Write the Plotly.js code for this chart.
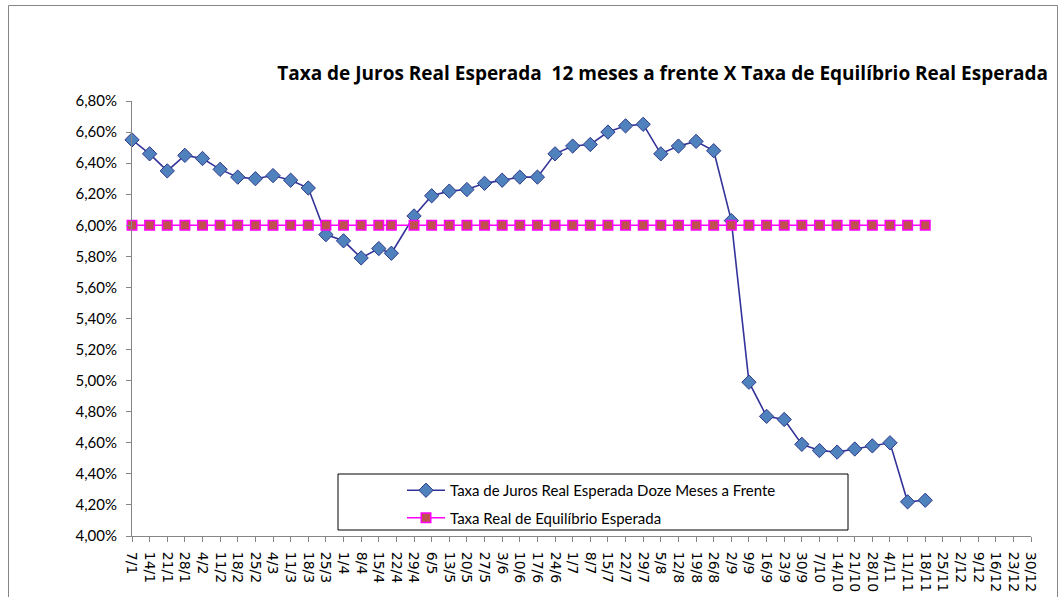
<!DOCTYPE html>
<html>
<head>
<meta charset="utf-8">
<script src="https://cdn.plot.ly/plotly-3.0.1.min.js"></script>
<style>
html,body{margin:0;padding:0;background:#fff;}
#chart{width:1062px;height:597px;}
</style>
</head>
<body>
<div id="chart"></div>
<script>
const year = 2009;

const obsDates = ['7/1','14/1','21/1','28/1','4/2','11/2','18/2','25/2','4/3','11/3','18/3','25/3','1/4','8/4','15/4','20/4',
  '29/4','6/5','13/5','20/5','27/5','3/6','10/6','17/6','24/6','1/7','8/7','15/7','22/7','29/7','5/8','12/8','19/8','26/8',
  '2/9','9/9','16/9','23/9','30/9','7/10','14/10','21/10','28/10','4/11','11/11','18/11'];

const jurosReal = [6.55,6.46,6.35,6.45,6.43,6.36,6.31,6.30,6.32,6.29,6.24,5.94,5.90,5.79,5.85,5.82,
  6.06,6.19,6.22,6.23,6.27,6.29,6.31,6.31,6.46,6.51,6.52,6.60,6.64,6.65,6.46,6.51,6.54,6.48,
  6.03,4.99,4.77,4.75,4.59,4.55,4.54,4.56,4.58,4.60,4.22,4.23];

const taxaEquilibrio = [6.00,6.00,6.00,6.00,6.00,6.00,6.00,6.00,6.00,6.00,6.00,6.00,6.00,6.00,6.00,6.00,
  6.00,6.00,6.00,6.00,6.00,6.00,6.00,6.00,6.00,6.00,6.00,6.00,6.00,6.00,6.00,6.00,6.00,6.00,
  6.00,6.00,6.00,6.00,6.00,6.00,6.00,6.00,6.00,6.00,6.00,6.00];

const tickLabels = ['7/1','14/1','21/1','28/1','4/2','11/2','18/2','25/2','4/3','11/3','18/3','25/3','1/4','8/4','15/4','22/4',
  '29/4','6/5','13/5','20/5','27/5','3/6','10/6','17/6','24/6','1/7','8/7','15/7','22/7','29/7','5/8','12/8','19/8','26/8',
  '2/9','9/9','16/9','23/9','30/9','7/10','14/10','21/10','28/10','4/11','11/11','18/11','25/11','2/12','9/12','16/12','23/12','30/12'];

const seriesNames = ['Taxa de Juros Real Esperada Doze Meses a Frente', 'Taxa Real de Equilíbrio Esperada'];
const chartTitle = 'Taxa de Juros Real Esperada\u00A0 12 meses a frente X Taxa de Equilíbrio Real Esperada';

function toISO(lbl){
  const p = lbl.split('/');
  return year + '-' + p[1].padStart(2,'0') + '-' + p[0].padStart(2,'0');
}

// pixel geometry of the figure
const W = 1062, H = 597, L = 132, R = 1031, T = 101, B = 536;
const px = x => (x - L) / (R - L);
const py = y => (B - y) / (B - T);

const xs = obsDates.map(toISO);

const traces = [
  {
    x: xs, y: jurosReal, name: seriesNames[0], type: 'scatter', mode: 'lines+markers',
    line: {color: '#333399', width: 1.6},
    marker: {symbol: 'diamond', size: 11, color: '#4F81BD', line: {color: '#2E3A8C', width: 1}},
    cliponaxis: false, legendgroup: 'a'
  },
  {
    x: xs, y: taxaEquilibrio, name: seriesNames[1], type: 'scatter', mode: 'lines+markers',
    line: {color: '#FF00FF', width: 1.6},
    marker: {symbol: 'square', size: 9.5, color: '#C0504D', line: {color: '#FF00FF', width: 1.5}},
    cliponaxis: false, legendgroup: 'b'
  }
];

const axisGray = '#868686';

const layout = {
  width: W, height: H,
  margin: {l: L, r: W - R, t: T, b: H - B, pad: 0},
  paper_bgcolor: '#ffffff', plot_bgcolor: '#ffffff',
  separators: ',.',
  showlegend: true,
  title: {
    text: '<b>' + chartTitle + '</b>',
    font: {family: 'Open Sans, sans-serif', size: 19, color: '#000000'},
    xref: 'container', yref: 'container',
    x: 1048 / W, xanchor: 'right',
    y: 1 - 73 / H, yanchor: 'middle'
  },
  xaxis: {
    type: 'date',
    range: [toISO(tickLabels[0]), toISO(tickLabels[tickLabels.length - 1])],
    tickmode: 'array',
    tickvals: tickLabels.map(toISO),
    ticktext: tickLabels,
    tickangle: 90,
    ticks: 'outside', ticklen: 5, tickcolor: axisGray, tickwidth: 1,
    ticklabelstandoff: 7,
    showline: true, linecolor: axisGray, linewidth: 1,
    showgrid: false, zeroline: false,
    tickfont: {family: 'DejaVu Sans, sans-serif', size: 14, color: '#000000'},
    automargin: false, fixedrange: true
  },
  yaxis: {
    range: [4.0, 6.8],
    tick0: 4.0, dtick: 0.2,
    tickformat: '.2f', ticksuffix: '%',
    ticks: 'outside', ticklen: 5, tickcolor: axisGray, tickwidth: 1,
    ticklabelstandoff: 6,
    showline: true, linecolor: axisGray, linewidth: 1,
    showgrid: false, zeroline: false,
    tickfont: {family: 'Lato, sans-serif', size: 15, color: '#000000'},
    automargin: false, fixedrange: true
  },
  legend: {
    x: px(402), xanchor: 'left',
    y: py(474), yanchor: 'top',
    bgcolor: 'rgba(0,0,0,0)', borderwidth: 0,
    traceorder: 'grouped', tracegroupgap: 5,
    itemwidth: 38,
    font: {family: 'Lato, sans-serif', size: 15, color: '#000000'}
  },
  shapes: [
    {type: 'rect', xref: 'paper', yref: 'paper', layer: 'above',
     x0: px(338), x1: px(848), y0: py(530), y1: py(474),
     line: {color: '#000000', width: 1}, fillcolor: '#ffffff'},
    {type: 'rect', xref: 'paper', yref: 'paper', layer: 'below',
     x0: px(8.5), x1: px(1057.5), y0: py(640), y1: py(5.5),
     line: {color: axisGray, width: 1}, fillcolor: 'rgba(0,0,0,0)'}
  ]
};

Plotly.newPlot('chart', traces, layout, {displayModeBar: false, staticPlot: true});
</script>
</body>
</html>
